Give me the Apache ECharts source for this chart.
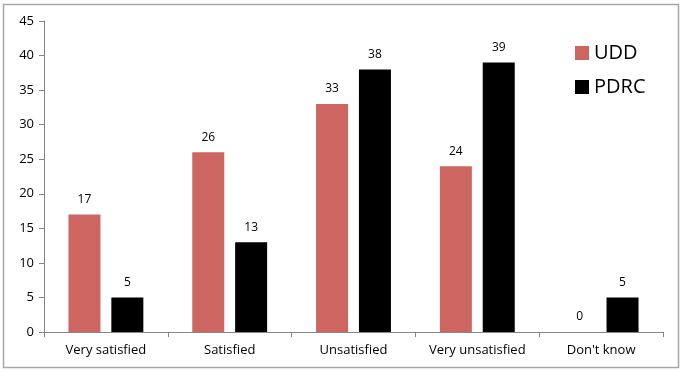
<!DOCTYPE html>
<html><head><meta charset="utf-8">
<script src="https://cdn.jsdelivr.net/npm/echarts@6/dist/echarts.min.js"></script>
<style>html,body{margin:0;padding:0;background:#fff}#c{width:684px;height:372px}</style>
</head><body><div id="c"></div>
<script>
const categories = ["Very satisfied", "Satisfied", "Unsatisfied", "Very unsatisfied", "Don't know"];
const udd = [17, 26, 33, 24, 0];
const pdrc = [5, 13, 38, 39, 5];
const yTicks = [0, 5, 10, 15, 20, 25, 30, 35, 40, 45];

const chart = echarts.init(document.getElementById('c'), null, {renderer: 'canvas'});
const font = "'Open Sans', 'Noto Sans', sans-serif";
const labelCfg = {show: true, position: 'top', distance: 9, color: '#000', fontSize: 12, fontFamily: font};
chart.setOption({
  animation: false,
  textStyle: {fontFamily: font},
  graphic: [{type: 'rect', shape: {x: 3.5, y: 4.5, width: 675, height: 363}, style: {fill: 'none', stroke: '#a6a6a6', lineWidth: 1.5}, silent: true}],
  grid: {left: 44, right: 21, top: 21, bottom: 40, containLabel: false},
  legend: {
    orient: 'vertical', left: 570, top: 38, itemWidth: 14, itemHeight: 14, itemGap: 14,
    textStyle: {fontSize: 20, color: '#000', fontFamily: font},
    data: [{name: 'UDD', icon: 'rect'}, {name: 'PDRC', icon: 'rect'}]
  },
  xAxis: {
    type: 'category', data: categories,
    axisLine: {lineStyle: {color: '#868686'}},
    axisTick: {show: true, length: 5, lineStyle: {color: '#868686'}},
    axisLabel: {color: '#000', fontSize: 13, margin: 12, interval: 0, fontFamily: font}
  },
  yAxis: {
    type: 'value', min: yTicks[0], max: yTicks[yTicks.length - 1], interval: 5,
    axisLine: {show: true, lineStyle: {color: '#868686'}},
    axisTick: {show: true, length: 5, lineStyle: {color: '#868686'}},
    splitLine: {show: false},
    axisLabel: {color: '#000', fontSize: 13, margin: 10, fontFamily: font}
  },
  series: [
    {name: 'UDD', type: 'bar', data: udd, itemStyle: {color: '#cd6660'}, barWidth: 32, barGap: '34%', label: labelCfg},
    {name: 'PDRC', type: 'bar', data: pdrc, itemStyle: {color: '#000000'}, barWidth: 32, label: labelCfg}
  ]
});
</script></body></html>
